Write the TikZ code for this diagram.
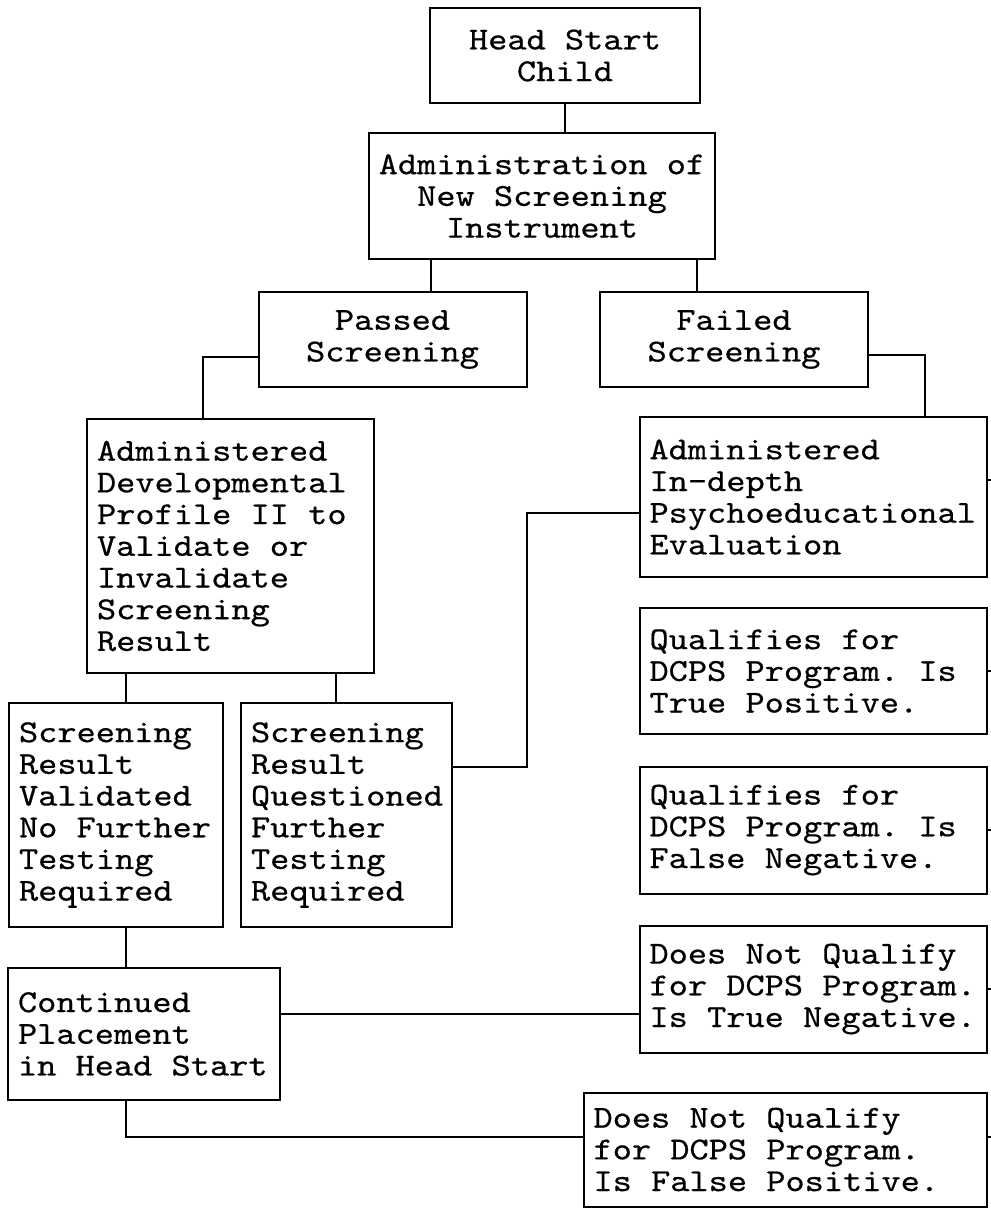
\documentclass[tikz,border=0pt]{standalone}
\usepackage{fontspec}
\usepackage{tikz}
\newfontfamily\typewriter[Extension = .otf, FakeStretch = 1.143, FakeBold = 0.5]{lmmono10-regular}
\frenchspacing
\tikzstyle{box} = [ rectangle, draw = black, line width = 1pt, %
                    inner xsep = 5pt, inner ysep = 0pt, %
                    font = \typewriter\fontsize{16pt}{15.85pt}\selectfont ]
\tikzstyle{cbox} = [box, align = center]
\tikzstyle{lbox} = [box, align = flush left]
\tikzstyle{link} = [line width = 1pt]

\begin{document}
\begin{tikzpicture}[x = 0.5pt, y = -0.5pt, node distance = 79.5pt]
      \useasboundingbox (0,0) rectangle (991,1212);
      \coordinate (edge) at (991,0);
      % Boxes
      \node (head) [cbox, minimum width = 135pt, minimum height = 47.5pt] %
        at (565,55.5) {Head Start\\Child};
      \node (admin) [cbox, minimum width = 168pt, minimum height = 63pt, %
        below of = head, xshift = -11.5pt, yshift = 9.25pt] %
        {Administration of\\New Screening\\Instrument};
      \node (passed) [cbox, minimum width = 134pt, minimum height = 47.5pt, %
        below of = admin, xshift = -74.75pt, yshift = 7.75pt] %
        {Passed\\Screening};
      \node (failed) [cbox, minimum width = 134pt, minimum height = 47.5pt, %
        right of = passed, xshift = 91.25pt] {Failed\\Screening};
      \node (dev) [lbox, text width = 133.5pt, minimum height = 127pt, %
        below of = passed, xshift = -81pt, yshift = -23.75pt] %
        {Administered\\Developmental\\Profile II to\\Validate or\\%
         Invalidate\\Screening\\Result};
      \node (indepth) [lbox, text width = 163.5pt, minimum height = 80pt, %
        below of = failed, xshift = 39.5pt, yshift = 0.75pt] %
        {Administered\\In-depth\\Psychoeducational\\Evaluation};
      \node (truepos) [lbox, text width = 163.5pt, minimum height = 63pt, %
        below of = indepth, yshift = -7.5pt] %
        {Qualifies for\\DCPS Program. Is\\True Positive.};
      \node (falseneg) [lbox, text width = 163.5pt, minimum height = 63.5pt, %
        below of = truepos] %
        {Qualifies for\\DCPS Program. Is\\False Negative.};
      \node (trueneg) [lbox, text width = 163.5pt, minimum height = 63.5pt, %
        below of = falseneg] %
        {Does Not Qualify\\for DCPS Program.\\Is True Negative.};
      \node (falsepos) [lbox, text width = 191.5pt, minimum height = 57pt, %
        below of = trueneg, xshift = -14pt, yshift = -0.75pt] %
        {Does Not Qualify\\for DCPS Program.\\Is False Positive.};
      \node (valid) [lbox, text width = 97pt, minimum height = 112pt, %
        below of = dev, xshift = -57.25pt, yshift = -55pt] %
        {Screening\\Result\\Validated\\No Further\\Testing\\Required};
      \node (quest) [lbox, text width = 95.5pt, minimum height = 112pt, %
        right of = valid, xshift = 35.75pt] %
        {Screening\\Result\\Questioned\\Further\\Testing\\Required};
      \node (cont) [lbox, text width = 126pt, minimum height = 66pt, %
        below of = valid, xshift = 14pt, yshift = -30pt] %
        {Continued\\Placement\\in Head Start};
      % Lines
      \draw [link] (head.south) -- (head.south |- admin.north);
      \draw [link] ([xshift = -55.5pt]admin.south) -- %
        ([xshift = -55.5pt]admin.south |- passed.north);
      \draw [link] ([xshift = 77.5pt]admin.south) -- %
        ([xshift = 77.5pt]admin.south |- failed.north);
      \draw [link] ([yshift = -8.75pt]passed.west) -| ([xshift = -13.75pt]dev.north);
      \draw [link] ([yshift = -7.75pt]failed.east) -| ([xshift = 56pt]indepth.north);
      \draw [link] ([xshift = -52.25pt]dev.south) -- %
        ([xshift = -52.25pt]dev.south |- valid.north);
      \draw [link] ([xshift = 52.75pt]dev.south) -- %
        ([xshift = 52.75pt]dev.south |- quest.north);
      \draw [link] ([yshift = 24pt]quest.east) -- ++(37pt,0) %
        |- ([yshift = -8pt]indepth.west);
      \draw [link] ([xshift = 5pt]valid.south) -- %
        ([xshift = 5pt]valid.south |- cont.north);
      \draw [link] ([yshift = 10pt]cont.east) -- ([yshift = 10pt]cont.east -| trueneg.west);
      \draw [link] ([xshift = -9pt]cont.south) |- ([yshift = 6.5pt]falsepos.west);
      % Lines leaving the page
      \draw [link] ([yshift = 8.5pt]indepth.east) -- ([yshift = 8.5pt]indepth.east -| edge);
      \draw [link] (truepos.east) -- (truepos.east -| edge);
      \draw [link] (falseneg.east) -- (falseneg.east -| edge);
      \draw [link] (trueneg.east) -- (trueneg.east -| edge);
      \draw [link] ([yshift = 6.5pt]falsepos.east) -- ([yshift = 6.5pt]falsepos.east -| edge);
    \end{tikzpicture}
\end{document}
